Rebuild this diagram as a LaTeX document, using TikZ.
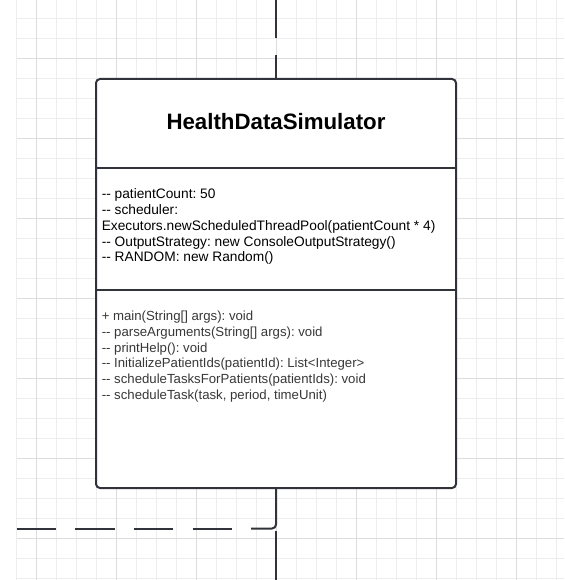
\documentclass[tikz,border=0pt]{standalone}
\usepackage{fontspec}
\setmainfont{Liberation Sans}

\definecolor{umlline}{RGB}{48,51,57}
\definecolor{gridfine}{RGB}{237,237,237}
\definecolor{gridmajor}{RGB}{221,221,221}
\newcommand{\dsh}{-\kern0pt-}

\tikzset{
	link/.style = {draw = umlline, line width = 1.5pt},
	member/.style = {anchor = base west,
					 inner sep = 0pt,
					 font = \frenchspacing\fontsize{10.3}{12}\selectfont},
	operation/.style = {member,
						text = black!78,
						font = \frenchspacing\fontsize{9.9}{12}\selectfont},
}

\begin{document}
\begin{tikzpicture}[x = 0.75pt, y = -0.75pt]

	\useasboundingbox (0,0) rectangle (564,580);

	\foreach \k in {0,...,27}
		\draw[gridfine, line width = 0.6pt] (16.7+20*\k, 0) -- (16.7+20*\k, 580);
	\foreach \k in {0,...,28}
		\draw[gridfine, line width = 0.6pt] (16.7, 18.3+20*\k) -- (564, 18.3+20*\k);
	\foreach \k in {1,5,...,25}
		\draw[gridmajor, line width = 0.6pt] (16.7+20*\k, 0) -- (16.7+20*\k, 580);
	\foreach \k in {2,6,...,26}
		\draw[gridmajor, line width = 0.6pt] (16.7, 18.3+20*\k) -- (564, 18.3+20*\k);

	\node[draw = umlline,
		  line width = 1.5pt,
		  fill = white,
		  rounded corners = 3pt,
		  minimum width = 270pt,
		  minimum height = 306.75pt,
		  inner sep = 0pt](sim) at (276,283.5){};

	\coordinate (div1) at (276,167.7);
	\coordinate (div2) at (276,290);
	\draw[link] (sim.west |- div1) -- (sim.east |- div1);
	\draw[link] (sim.west |- div2) -- (sim.east |- div2);

	\node[anchor = base,
		  inner sep = 0pt,
		  font = \bfseries\fontsize{16.7}{20}\selectfont](title) at (276,130){HealthDataSimulator};

	\foreach \txt [count = \i] in {
			{\dsh\ patientCount: 50},
			{\dsh\ scheduler:},
			{Executors.newScheduledThreadPool(patientCount * 4)},
			{\dsh\ OutputStrategy: new ConsoleOutputStrategy()},
			{\dsh\ RANDOM: new Random()}}
		\node[member](attr\i) at (101.5, 199+15.75*\i-15.75){\txt};

	\foreach \txt [count = \i] in {
			{+ main(String[] args): void},
			{\dsh\ parseArguments(String[] args): void},
			{\dsh\ printHelp(): void},
			{\dsh\ InitializePatientIds(patientId): List<Integer>},
			{\dsh\ scheduleTasksForPatients(patientIds): void},
			{\dsh\ scheduleTask(task, period, timeUnit)}}
		\node[operation](op\i) at (101.5, 320.7+15.75*\i-15.75){\txt};

	\coordinate (topEnd) at (276,0);
	\coordinate (jumpA) at (276,38.3);
	\coordinate (jumpB) at (276,55);
	\draw[link] (topEnd) -- (jumpA);
	\draw[link] (jumpB) -- (sim.north);

	\coordinate (dashStart) at (16.7,528.5);
	\coordinate (dashEnd) at (251,528.5);
	\draw[link, rounded corners = 3pt] (sim.south) |- (dashEnd);
	\draw[link, dash pattern = on 29.5pt off 14.5pt] (dashStart) -- (dashEnd);

	\coordinate (jumpC) at (276,531);
	\coordinate (botEnd) at (276,580);
	\draw[link] (jumpC) -- (botEnd);

\end{tikzpicture}
\end{document}
